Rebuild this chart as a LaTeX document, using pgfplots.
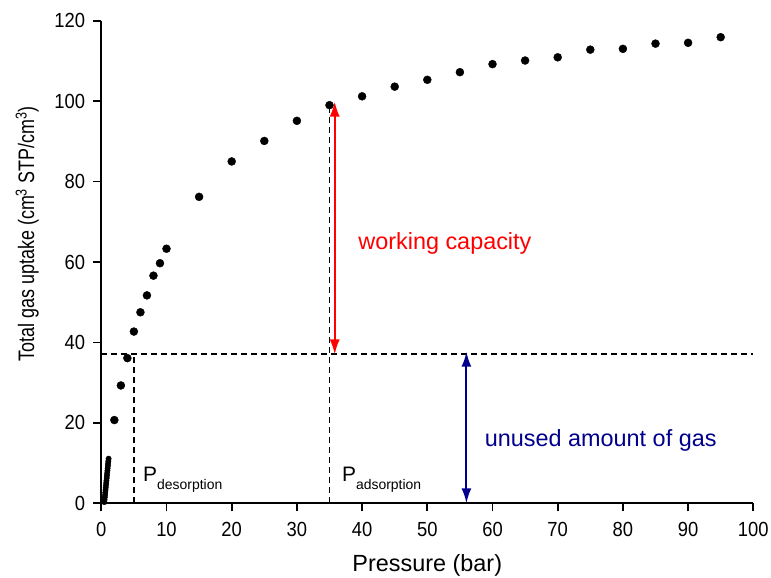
\documentclass[border=0pt]{standalone}
\usepackage{fontspec}
\setmainfont{Liberation Sans}
\usepackage{pgfplots}
\pgfplotsset{compat=1.18}
\usetikzlibrary{arrows.meta}
\definecolor{navyb}{RGB}{0,0,140}
\begin{document}
\begin{tikzpicture}
\begin{axis}[
 scale only axis, width=652bp, height=482.6bp,
 xmin=0, xmax=100, ymin=0, ymax=120,
 axis x line*=bottom, axis y line*=left,
 axis line style={line width=1.7bp},
 every tick/.style={line width=1.7bp, black},
 tick align=outside, major tick length=8bp,
 xtick distance=10, ytick distance=20,
 /pgf/number format/assume math mode=true,
 tick label style={font=\fontsize{20.5}{22}\selectfont},
 xticklabel={\scalebox{0.9}[1]{\pgfmathprintnumber{\tick}}},
 yticklabel={\scalebox{0.9}[1]{\pgfmathprintnumber{\tick}}},
 xticklabel style={anchor=base, inner sep=0pt, yshift=-25bp},
 yticklabel style={anchor=east, inner sep=0pt, xshift=-8bp},
 xlabel={Pressure (bar)},
 ylabel={\scalebox{0.8}[1]{Total gas uptake (cm\textsuperscript{3} STP/cm\textsuperscript{3})}},
 xlabel style={font=\fontsize{23.5}{25}\selectfont, at={(axis description cs:0.5,0)}, anchor=base, inner sep=0pt, yshift=-68.5bp},
 ylabel style={font=\fontsize{22.5}{24}\selectfont, at={(axis description cs:-0.1135,0.558)}, anchor=center, inner sep=0pt},
 clip=false,
]
% low pressure region
\addplot[only marks, mark=*, mark size=2.7bp, black] coordinates {
(0.47,0.3) (0.50,0.9) (0.54,1.5) (0.58,2.1) (0.61,2.7) (0.65,3.3) (0.68,3.9)
(0.72,4.5) (0.76,5.1) (0.79,5.7) (0.83,6.3) (0.86,6.9) (0.90,7.5) (0.94,8.1)
(0.97,8.7) (1.01,9.3) (1.04,9.9) (1.08,10.5) (1.12,11.1)
};
% high pressure points
\addplot[only marks, mark=*, mark size=4bp, black] coordinates {
(2,20.7) (3,29.3) (4,36.1) (5,42.7) (6,47.5) (7,51.7) (8,56.6) (9,59.7) (10,63.3)
(15,76.2) (20,85.0) (25,90.1) (30,95.1) (35,99.0) (40,101.2) (45,103.6) (50,105.3)
(55,107.2) (60,109.2) (65,110.1) (70,110.9) (75,112.8) (80,113.0) (85,114.3)
(90,114.5) (95,115.9)
};
% dashed guide lines
\draw[dash pattern=on 6bp off 4bp, line width=1.4bp] (axis cs:0,37.1) -- (axis cs:100,37.1);
\draw[dash pattern=on 6bp off 4bp, line width=1.4bp] (axis cs:5,0) -- (axis cs:5,37.1);
\draw[dash pattern=on 6bp off 4bp, line width=1.5bp] (axis cs:35,0) -- (axis cs:35,98.3);
% arrows
\draw[red, line width=2bp, {Latex[length=15bp,width=10bp]}-{Latex[length=15bp,width=10bp]}] (axis cs:35.8,37.0) -- (axis cs:35.8,99.9);
\draw[navyb, line width=2bp, {Latex[length=15bp,width=10bp]}-{Latex[length=15bp,width=10bp]}] (axis cs:56,0) -- (axis cs:56,37.7);
% labels
\node[anchor=west, inner sep=0pt, red, font=\fontsize{23.5}{25}\selectfont] at (axis cs:39.4,64.5) {working capacity};
\node[anchor=west, inner sep=0pt, navyb, font=\fontsize{23.5}{25}\selectfont] at (axis cs:58.8,15.7) {unused amount of gas};
\node[anchor=base west, inner sep=0pt] at (axis cs:6.4,5.4) {\fontsize{21}{22}\selectfont P\raisebox{-8bp}{\fontsize{14}{15}\selectfont desorption}};
\node[anchor=base west, inner sep=0pt] at (axis cs:36.9,5.4) {\fontsize{21}{22}\selectfont P\raisebox{-8bp}{\fontsize{14}{15}\selectfont adsorption}};
\end{axis}
\pgfresetboundingbox
\path[use as bounding box] (-101.3bp,-74.7bp) rectangle (669.7bp,503.3bp);
\end{tikzpicture}
\end{document}
